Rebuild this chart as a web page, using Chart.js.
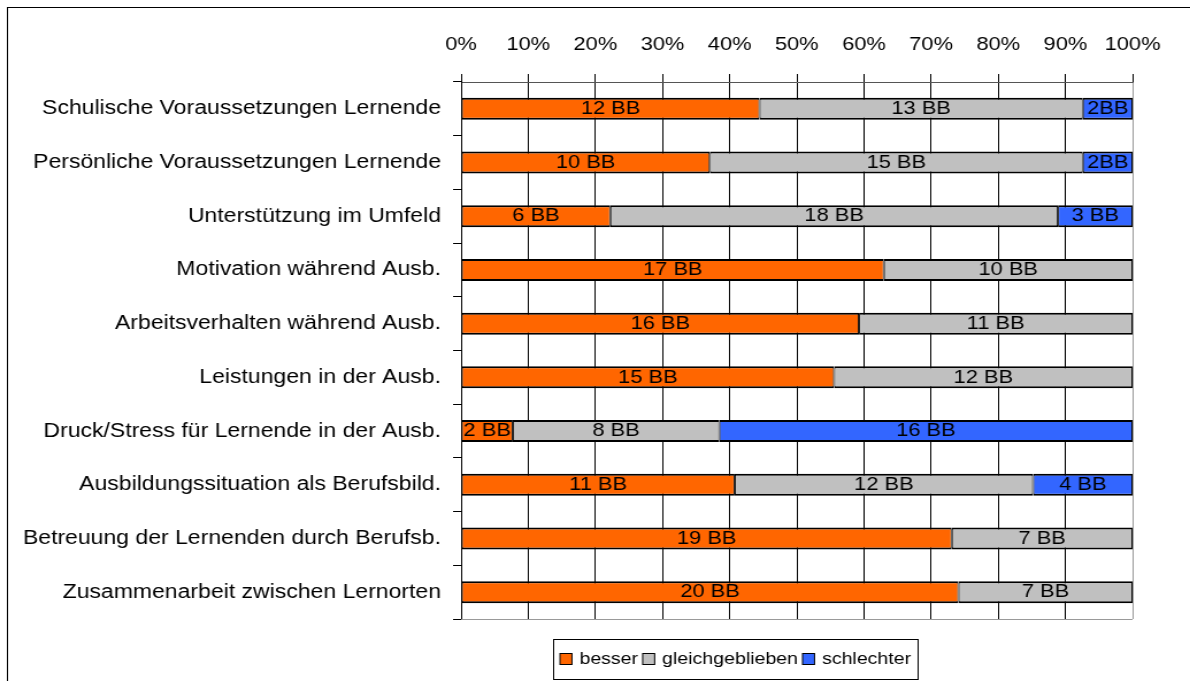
<!DOCTYPE html>
<html>
<head>
<meta charset="utf-8">
<script src="https://cdn.jsdelivr.net/npm/chart.js@4.4.0/dist/chart.umd.min.js"></script>
<style>
  html, body { margin: 0; padding: 0; background: #fff; overflow: hidden; }
  /* the reference picture is stretched sideways, so draw narrower and stretch */
  #wrap { width: 1035px; height: 681px; transform: scaleX(1.1498); transform-origin: 0 0; }
</style>
</head>
<body>
<div id="wrap"><canvas id="chart" width="1035" height="681"></canvas></div>
<script>
const categories = [
    'Schulische Voraussetzungen Lernende',
    'Persönliche Voraussetzungen Lernende',
    'Unterstützung im Umfeld',
    'Motivation während Ausb.',
    'Arbeitsverhalten während Ausb.',
    'Leistungen in der Ausb.',
    'Druck/Stress für Lernende in der Ausb.',
    'Ausbildungssituation als Berufsbild.',
    'Betreuung der Lernenden durch Berufsb.',
    'Zusammenarbeit zwischen Lernorten'
];
const besser     = [12, 10, 6, 17, 16, 15, 2, 11, 19, 20];
const gleich     = [13, 15, 18, 10, 11, 12, 8, 12, 7, 7];
const schlechter = [2, 2, 3, 0, 0, 0, 16, 4, 0, 0];
const percentTicks = [0, 10, 20, 30, 40, 50, 60, 70, 80, 90, 100];
// rows where the "schlechter" label is written without space ("2BB")
const noSpaceRows = [0, 1];

const FONT = '"Liberation Sans", Arial, sans-serif';

const totals = categories.map((_, i) => besser[i] + gleich[i] + schlechter[i]);
const pct = arr => arr.map((v, i) => v / totals[i] * 100);

const barLabels = {
    id: 'barLabels',
    afterDatasetsDraw(chart) {
        const ctx = chart.ctx;
        ctx.save();
        ctx.font = '19px ' + FONT;
        ctx.fillStyle = '#000';
        ctx.textAlign = 'center';
        ctx.textBaseline = 'middle';
        chart.data.datasets.forEach((ds, d) => {
            chart.getDatasetMeta(d).data.forEach((bar, i) => {
                const n = ds.counts[i];
                if (!n) return;
                const sep = (d === 2 && noSpaceRows.includes(i)) ? '' : ' ';
                ctx.fillText(n + sep + 'BB', (bar.x + bar.base) / 2, bar.y);
            });
        });
        ctx.restore();
    }
};

const frames = {
    id: 'frames',
    beforeDraw(chart) {
        const ctx = chart.ctx;
        ctx.save();
        ctx.strokeStyle = '#000';
        ctx.lineWidth = 1;
        ctx.strokeRect(6.5, 7.5, 2000, 2000);
        ctx.restore();
    },
    afterDraw(chart) {
        const ctx = chart.ctx;
        const a = chart.chartArea;
        ctx.save();
        // bottom edge of plot
        ctx.strokeStyle = '#999';
        ctx.lineWidth = 1;
        ctx.beginPath();
        ctx.moveTo(a.left, Math.round(a.bottom) + 0.5);
        ctx.lineTo(a.right, Math.round(a.bottom) + 0.5);
        ctx.stroke();

        // legend with a box round it
        ctx.font = '17px ' + FONT;
        ctx.textBaseline = 'middle';
        ctx.textAlign = 'left';
        const boxW = 10.4, boxH = 12, gap = 6.5, spacing = 4, pad = 6;
        const items = chart.data.datasets.map(ds => ({
            text: ds.label, color: ds.backgroundColor, w: ctx.measureText(ds.label).width
        }));
        let total = 0;
        items.forEach((it, k) => { total += boxW + gap + it.w + (k ? spacing : 0); });
        const cx = 639.7, cy = 659;
        let x = cx - total / 2;
        ctx.strokeStyle = '#000';
        ctx.strokeRect(Math.round(x - pad) + 0.5, 639.5, Math.round(total + 2 * pad), 40);
        items.forEach(it => {
            ctx.fillStyle = it.color;
            ctx.fillRect(x, cy - boxH / 2, boxW, boxH);
            ctx.strokeRect(x, cy - boxH / 2 + 0.5, boxW, boxH - 1);
            ctx.fillStyle = '#000';
            ctx.fillText(it.text, x + boxW + gap, cy);
            x += boxW + gap + it.w + spacing;
        });
        ctx.restore();
    }
};

const barStyle = {
    borderColor: '#000',
    borderWidth: { top: 2, bottom: 2, left: 1, right: 1 },
    borderSkipped: false,
    barPercentage: 0.41,
    categoryPercentage: 1
};

new Chart(document.getElementById('chart'), {
    type: 'bar',
    data: {
        labels: categories,
        datasets: [
            { label: 'besser', data: pct(besser), counts: besser, backgroundColor: '#ff6600', ...barStyle },
            { label: 'gleichgeblieben', data: pct(gleich), counts: gleich, backgroundColor: '#c0c0c0', ...barStyle },
            { label: 'schlechter', data: pct(schlechter), counts: schlechter, backgroundColor: '#3366ff', ...barStyle }
        ]
    },
    options: {
        indexAxis: 'y',
        responsive: false,
        animation: false,
        layout: { padding: { left: 10, right: 50, top: 10, bottom: 62 } },
        plugins: {
            legend: { display: false },
            tooltip: { enabled: false }
        },
        scales: {
            x: {
                position: 'top',
                stacked: true,
                min: 0,
                max: 100,
                afterBuildTicks: scale => { scale.ticks = percentTicks.map(v => ({ value: v })); },
                afterFit: scale => { scale.height = 72; },
                ticks: {
                    autoSkip: false,
                    maxRotation: 0,
                    padding: 17.6,
                    color: '#000',
                    font: { family: FONT, size: 19 },
                    callback: v => v + '%'
                },
                grid: {
                    color: c => (c.tick && c.tick.value === 100) ? '#999' : '#000',
                    tickColor: '#000',
                    tickLength: 8
                },
                border: { color: '#555' }
            },
            y: {
                stacked: true,
                afterFit: scale => { scale.width = 391; },
                ticks: {
                    padding: 10.5,
                    color: '#000',
                    font: { family: FONT, size: 20 }
                },
                grid: {
                    offset: true,
                    drawOnChartArea: false,
                    color: '#000',
                    tickLength: 7
                },
                border: { color: '#000' }
            }
        }
    },
    plugins: [barLabels, frames]
});
</script>
</body>
</html>
